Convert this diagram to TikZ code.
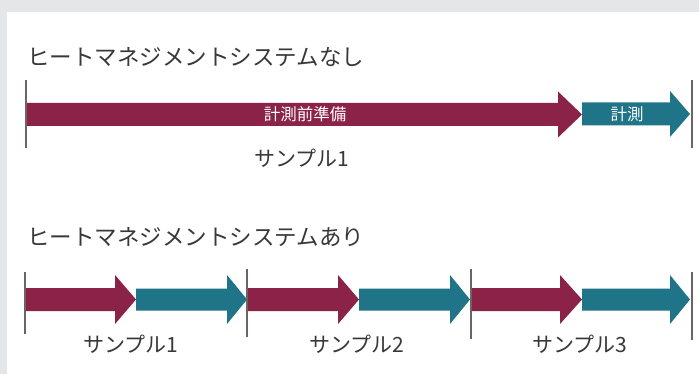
\documentclass[tikz,border=0pt]{standalone}
\usepackage{fontspec}
\setmainfont{Noto Sans CJK JP}
\usetikzlibrary{positioning}
\definecolor{bggrey}{HTML}{E5E6E8}
\definecolor{maroon}{HTML}{8B2247}
\definecolor{tealc}{HTML}{1F7488}
\definecolor{tick}{HTML}{6E6262}
\definecolor{txt}{HTML}{383838}
\tikzset{
  title/.style={anchor=west, inner sep=0pt, text=txt, font=\fontsize{22.5}{24}\selectfont},
  sample/.style={inner sep=0pt, text=txt, font=\fontsize{21}{23}\selectfont},
  inlabel/.style={inner sep=0pt, text=white, font=\fontsize{16.5}{18}\selectfont},
  tickline/.style={draw=tick, line width=2pt},
}
% \harr{x1}{headstart}{tip}{yc}{shafthalf}{headhalf}{color}
\newcommand{\harr}[7]{%
  \fill[#7] (#1,#4-#5) -- (#2,#4-#5) -- (#2,#4-#6) -- (#3,#4) -- (#2,#4+#6) -- (#2,#4+#5) -- (#1,#4+#5) -- cycle;}
\begin{document}
\begin{tikzpicture}[x=1pt,y=-1pt]
\useasboundingbox (0,0) rectangle (699,374);
\fill[bggrey] (0,0) rectangle (699,374);
\fill[white] (7,12) rectangle (699,374);

% ---- without heat management ----
\node[title] (t1) at (27,57) {ヒートマネジメントシステムなし};
\harr{26}{558}{582}{114.5}{11.5}{23}{maroon}
\harr{582}{670}{690}{114}{11.5}{23}{tealc}
\coordinate (a1) at (26,80); \coordinate (a2) at (26,148);
\coordinate (b1) at (692,80); \coordinate (b2) at (692,148);
\draw[tickline] (a1) -- (a2);
\draw[tickline] (b1) -- (b2);
\node[inlabel] (prep) at (305,114.5) {計測前準備};
\node[inlabel] (meas) at (627,114) {計測};
\node[sample] (s0) at (302,158) {サンプル1};

% ---- with heat management ----
\node[title] (t2) at (27,237) {ヒートマネジメントシステムあり};
\harr{25}{115}{136}{299.5}{11.5}{24.5}{maroon}
\harr{136}{227}{247}{299.5}{11}{24.5}{tealc}
\harr{247}{338}{359}{299.5}{11.5}{24.5}{maroon}
\harr{359}{450}{470}{299.5}{11}{24.5}{tealc}
\harr{471}{560}{582}{299.5}{11.5}{24.5}{maroon}
\harr{582}{670}{690}{299.5}{11}{24.5}{tealc}
\coordinate (c1) at (25,272); \coordinate (c2) at (25,334);
\coordinate (d1) at (247,269); \coordinate (d2) at (247,337);
\coordinate (e1) at (471,269); \coordinate (e2) at (471,339);
\coordinate (f1) at (692,272); \coordinate (f2) at (692,340);
\draw[tickline] (c1) -- (c2);
\draw[tickline] (d1) -- (d2);
\draw[tickline] (e1) -- (e2);
\draw[tickline] (f1) -- (f2);
\node[sample] (s1) at (131,344) {サンプル1};
\node[sample] (s2) at (357,344) {サンプル2};
\node[sample] (s3) at (580,344) {サンプル3};
\end{tikzpicture}
\end{document}
